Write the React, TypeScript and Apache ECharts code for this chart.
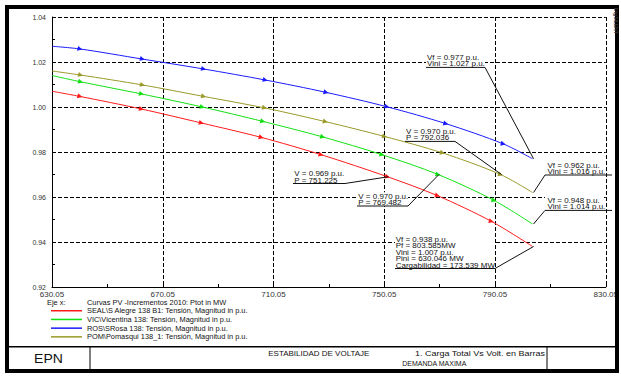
import React, { useEffect, useRef } from "react";
import * as echarts from "echarts";

// ---------- data ----------
const X_MIN = 630.05;
const X_MAX = 830.05;
const X_STEP = 40;
const Y_MIN = 0.92;
const Y_MAX = 1.04;
const Y_STEP = 0.02;

const seriesNames = [
  "SEAL\\S Alegre 138 B1: Tensión, Magnitud in p.u.",
  "VIC\\Vicentina 138: Tensión, Magnitud in p.u.",
  "ROS\\SRosa 138: Tensión, Magnitud in p.u.",
  "POM\\Pomasqui 138_1: Tensión, Magnitud in p.u.",
];
const seriesColors = ["#ff1a1a", "#12e012", "#1a1aff", "#9a9a2a"];

const sealP = [630.05, 640.14, 662.37, 684.0, 705.62, 727.24, 751.225, 769.26, 788.72, 803.585];
const sealV = [1.007, 1.0047, 0.9991, 0.9929, 0.9865, 0.9788, 0.969, 0.9606, 0.9492, 0.938];

const vicP = [630.05, 640.39, 662.37, 684.36, 706.19, 727.82, 749.22, 769.482, 789.69, 803.585];
const vicV = [1.014, 1.0112, 1.0058, 1.0, 0.9936, 0.9867, 0.9788, 0.97, 0.9585, 0.948];

const rosP = [630.05, 640.14, 662.7, 684.8, 707.06, 729.04, 751.02, 772.3, 793.04, 803.585];
const rosV = [1.027, 1.0258, 1.0213, 1.0169, 1.012, 1.0065, 1.0001, 0.9926, 0.9836, 0.977];

const pomP = [630.05, 640.39, 662.73, 684.83, 706.81, 728.79, 750.16, 771.06, 792.036, 803.585];
const pomV = [1.016, 1.0142, 1.0098, 1.0047, 0.9996, 0.9935, 0.9869, 0.9796, 0.97, 0.962];

const annTexts = [
  ["Vf = 0.977 p.u.", "Vini = 1.027 p.u."],
  ["V = 0.970 p.u.", "P = 792.036"],
  ["Vf = 0.962 p.u.", "Vini = 1.016 p.u."],
  ["Vf = 0.948 p.u.", "Vini = 1.014 p.u."],
  ["V = 0.969 p.u.", "P = 751.225"],
  ["V = 0.970 p.u.", "P = 769.482"],
  ["Vf = 0.938 p.u.", "Pf = 803.585MW", "Vini = 1.007 p.u.", "Pini = 630.046 MW", "Cargabilidad = 173.539 MW"],
];
const annAnchorP = [803.585, 792.036, 803.585, 803.585, 751.225, 769.482, 803.585];
const annAnchorV = [0.977, 0.97, 0.962, 0.948, 0.969, 0.97, 0.938];

const xAxisTitle = "Eje x:";
const xAxisDesc = "Curvas PV -Incrementos 2010: Ptot in MW";
const blockLeft = "EPN";
const blockMid = "ESTABILIDAD DE VOLTAJE";
const blockRight1 = "1. Carga Total Vs Volt. en Barras";
const blockRight2 = "DEMANDA MAXIMA";
const logoText = "DIgSILENT";

// ---------- layout (pixels) ----------
const FONT = "'Liberation Sans', Arial, Helvetica, sans-serif";
const GRID = { left: 52, top: 17, width: 555, height: 270 };
const annLayout = [
  { x: 427, y0: 57.7, x1: 426, x2: 485, attach: "right", bgX2: 485 },
  { x: 406, y0: 131.7, x1: 405, x2: 455, attach: "right", bgX2: 455 },
  { x: 547.5, y0: 165.3, x1: 545, x2: 612, attach: "left", bgX2: 603 },
  { x: 547.5, y0: 200.7, x1: 545, x2: 612, attach: "left", bgX2: 603 },
  { x: 294.3, y0: 173.8, x1: 293, x2: 345, attach: "right", bgX2: 345 },
  { x: 358.3, y0: 196.3, x1: 357, x2: 408, attach: "right", bgX2: 408 },
  { x: 395.7, y0: 239.3, x1: 395, x2: 495, attach: "right", bgX2: 495 },
];
const LINE_GAP = 6.5;

// same linear mapping as the chart's grid/axes (value -> pixel)
function toPx(p: number, v: number) {
  return [
    GRID.left + ((p - X_MIN) / (X_MAX - X_MIN)) * GRID.width,
    GRID.top + ((Y_MAX - v) / (Y_MAX - Y_MIN)) * GRID.height,
  ];
}

function buildSeriesData(P: number[], V: number[]) {
  return P.map((p, i) => ({
    value: [p - X_MIN, V[i]],
    symbol: i === 0 || i === P.length - 1 ? "none" : "triangle",
  }));
}

function txt(x: number, y: number, text: string, size: number, align = "left", scaleY = 1) {
  return {
    type: "text",
    x,
    y,
    scaleY,
    z: 20,
    style: {
      text,
      fill: "#111",
      font: `${size}px ${FONT}`,
      textAlign: align,
      align,
      textVerticalAlign: "middle",
      verticalAlign: "middle",
    },
  };
}

export default function App() {
  const ref = useRef<HTMLDivElement>(null);
  const overlayRef = useRef<HTMLDivElement>(null);

  useEffect(() => {
    if (!ref.current || !overlayRef.current) return;
    const chart = echarts.init(ref.current, null, { renderer: "svg" });
    const allP = [sealP, vicP, rosP, pomP];
    const allV = [sealV, vicV, rosV, pomV];

    const axisCommon = {
      axisLine: { show: true, lineStyle: { color: "#000", width: 1 } },
      axisTick: { show: true, inside: true, length: 3, lineStyle: { color: "#000" } },
      minorTick: { show: true, splitNumber: 2, length: 3, lineStyle: { color: "#000" } },
      splitLine: { show: true, lineStyle: { color: "#000", type: [4, 2], width: 1 } },
    };

    chart.setOption({
      animation: false,
      backgroundColor: "#ffffff",
      textStyle: { fontFamily: FONT },
      grid: { ...GRID, containLabel: false },
      xAxis: {
        type: "value",
        min: 0,
        max: X_MAX - X_MIN,
        interval: X_STEP,
        ...axisCommon,
        axisLabel: { formatter: (v: number) => (v + X_MIN).toFixed(2), fontSize: 8, color: "#333", margin: 3 },
      },
      yAxis: {
        type: "value",
        min: Y_MIN,
        max: Y_MAX,
        interval: Y_STEP,
        ...axisCommon,
        axisLabel: { formatter: (v: number) => v.toFixed(2), fontSize: 7, color: "#333", margin: 6 },
      },
      legend: {
        orient: "vertical",
        left: 51,
        top: 306.4,
        padding: 0,
        itemGap: 0,
        itemWidth: 31,
        itemHeight: 1.5,
        icon: "rect",
        selectedMode: false,
        data: seriesNames.map((n, k) => ({ name: n, itemStyle: { color: seriesColors[k] } })),
        textStyle: { fontSize: 7.4, color: "#111", fontFamily: FONT, lineHeight: 8.7 },
      },
      series: seriesNames.map((name, k) => ({
        name,
        type: "line",
        data: buildSeriesData(allP[k], allV[k]),
        smooth: 0.3,
        symbolSize: 5,
        symbolRotate: -105,
        color: seriesColors[k],
        lineStyle: { width: 1, color: seriesColors[k] },
        itemStyle: { color: seriesColors[k] },
        z: 3,
      })),
    });

    const elements: any[] = [];
    elements.push({
      type: "rect",
      z: 30,
      shape: { x: 7, y: 7, width: 610, height: 364 },
      style: { fill: "none", stroke: "#000", lineWidth: 4 },
    });
    elements.push({ type: "line", z: 30, shape: { x1: 7, y1: 346.7, x2: 617, y2: 346.7 }, style: { stroke: "#000", lineWidth: 1.5 } });
    elements.push({ type: "line", z: 30, shape: { x1: 90, y1: 346.7, x2: 90, y2: 371 }, style: { stroke: "#000", lineWidth: 1 } });
    elements.push({ type: "line", z: 30, shape: { x1: 547, y1: 346.7, x2: 547, y2: 371 }, style: { stroke: "#000", lineWidth: 1 } });
    elements.push(txt(48.5, 359, blockLeft, 14, "center", 0.85));
    elements.push(txt(268.3, 353.3, blockMid, 8, "left", 0.85));
    elements.push(txt(415, 353.3, blockRight1, 9, "left", 0.8));
    elements.push(txt(402.3, 363.3, blockRight2, 7, "left", 0.9));
    elements.push(txt(47, 302.7, xAxisTitle, 7.4));
    elements.push(txt(87, 302.7, xAxisDesc, 7.4));
    elements.push({
      type: "text",
      x: 616,
      y: 21,
      rotation: -Math.PI / 2,
      z: 31,
      style: {
        text: logoText,
        fill: "#333",
        font: `bold 5px ${FONT}`,
        textAlign: "center",
        align: "center",
        textVerticalAlign: "middle",
        verticalAlign: "middle",
      },
    });

    annTexts.forEach((lines, i) => {
      const L = annLayout[i];
      const ulY = L.y0 + (lines.length - 1) * LINE_GAP + 3.2;
      elements.push({
        type: "rect",
        z: 15,
        shape: { x: L.x1, y: L.y0 - 4, width: L.bgX2 - L.x1, height: ulY - (L.y0 - 4) },
        style: { fill: "#fff" },
      });
      lines.forEach((t, j) => elements.push(txt(L.x, L.y0 + j * LINE_GAP, t, 8, "left", 0.8)));
      elements.push({
        type: "line",
        z: 21,
        shape: { x1: L.x1, y1: ulY, x2: L.x2, y2: ulY },
        style: { stroke: "#111", lineWidth: 1 },
      });
      const a = toPx(annAnchorP[i], annAnchorV[i]);
      const sx = L.attach === "right" ? L.x2 : L.x1;
      elements.push({
        type: "line",
        z: 21,
        shape: { x1: sx, y1: ulY, x2: a[0], y2: a[1] },
        style: { stroke: "#111", lineWidth: 1 },
      });
    });

    const overlay = echarts.init(overlayRef.current, null, { renderer: "svg" });
    overlay.setOption({
      animation: false,
      backgroundColor: "transparent",
      graphic: { elements },
    });

    return () => {
      overlay.dispose();
      chart.dispose();
    };
  }, []);

  return (
    <div>
      <div
        ref={ref}
        style={{ position: "fixed", left: 0, top: 0, width: 621, height: 376, background: "#fff" }}
      />
      <div
        ref={overlayRef}
        style={{ position: "fixed", left: 0, top: 0, width: 621, height: 376, zIndex: 1, pointerEvents: "none" }}
      />
    </div>
  );
}
